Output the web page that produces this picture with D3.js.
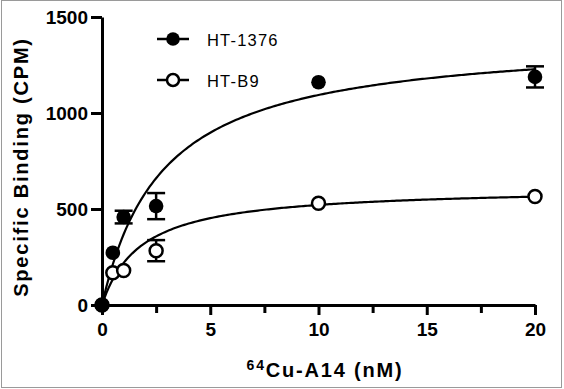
<!DOCTYPE html>
<html>
<head>
<meta charset="utf-8">
<script src="https://cdn.jsdelivr.net/npm/d3@7"></script>
<style>
  body { margin: 0; background: #fff; }
  svg { display: block; font-family: "Liberation Sans", Arial, Helvetica, sans-serif; }
  .axis-title { font-size: 20px; font-weight: bold; letter-spacing: 1.8px; fill: #000; }
  .legend-text { font-size: 16.5px; letter-spacing: 1.2px; fill: #000; }
</style>
</head>
<body>
<div id="chart"></div>
<script>
// concentrations (nM)
var concHT1376 = [0, 0.5, 1, 2.5, 10, 20];
var bindHT1376 = [0, 272, 458, 515, 1160, 1188];
var errHT1376  = [0, 0, 33, 68, 0, 55];

var concHTB9 = [0, 0.5, 1, 2.5, 10, 20];
var bindHTB9 = [0, 168, 180, 283, 530, 565];
var errHTB9  = [0, 0, 0, 55, 0, 0];

// one-site binding fit: Bmax, Kd
var fitHT1376 = [1400, 2.8];
var fitHTB9 = [615, 1.8];

var seriesNames = ["HT-1376", "HT-B9"];
var xTicks = [0, 5, 10, 15, 20];
var xMinorTicks = [2.5, 7.5, 12.5, 17.5];
var yTicks = [0, 500, 1000, 1500];

var width = 564, height = 389;

var svg = d3.select("#chart").append("svg")
    .attr("width", width)
    .attr("height", height);

// frame
svg.append("rect")
    .attr("x", 1.5).attr("y", 0.5)
    .attr("width", 560).attr("height", 387)
    .attr("fill", "none")
    .attr("stroke", "#9a9a9a")
    .attr("stroke-width", 1);

var x = d3.scaleLinear().domain([0, 20]).range([102, 535]);
var y = d3.scaleLinear().domain([0, 1500]).range([305, 17]);

function styleAxis(g) {
    g.attr("font-size", 19).attr("font-family", null).attr("font-weight", "bold");
    g.select(".domain").attr("stroke", "#000").attr("stroke-width", 3);
    g.selectAll(".tick line").attr("stroke", "#000").attr("stroke-width", 3);
    g.selectAll(".tick text").attr("fill", "#000");
}

// x axis
var xAxis = svg.append("g")
    .attr("transform", "translate(0," + y(0) + ")")
    .call(d3.axisBottom(x).tickValues(xTicks).tickFormat(d3.format("d"))
        .tickSize(10).tickSizeOuter(0).tickPadding(8));
styleAxis(xAxis);

var xMinor = svg.append("g")
    .attr("transform", "translate(0," + y(0) + ")")
    .call(d3.axisBottom(x).tickValues(xMinorTicks).tickSize(8).tickFormat(""));
xMinor.select(".domain").remove();
xMinor.selectAll(".tick line").attr("stroke", "#000").attr("stroke-width", 3);

// y axis
var yAxis = svg.append("g")
    .attr("transform", "translate(" + x(0) + ",0)")
    .call(d3.axisLeft(y).tickValues(yTicks).tickFormat(d3.format("d"))
        .tickSize(11).tickSizeOuter(0).tickPadding(3));
styleAxis(yAxis);
yAxis.selectAll(".tick text").attr("dy", "0.36em");

// axis titles
var xTitle = svg.append("text")
    .attr("class", "axis-title")
    .attr("x", 325).attr("y", 377)
    .attr("text-anchor", "middle");
xTitle.append("tspan").attr("font-size", 14).attr("dy", -7).text("64");
xTitle.append("tspan").attr("dy", 7).text("Cu-A14 (nM)");

svg.append("text")
    .attr("class", "axis-title")
    .attr("transform", "translate(28,167) rotate(-90)")
    .attr("text-anchor", "middle")
    .text("Specific Binding (CPM)");

// fit curves
var curveX = d3.range(0, 20.001, 0.1);
var line = d3.line()
    .x(function(d) { return x(d[0]); })
    .y(function(d) { return y(d[1]); });

[fitHT1376, fitHTB9].forEach(function(p) {
    svg.append("path")
        .datum(curveX.map(function(c) { return [c, p[0] * c / (p[1] + c)]; }))
        .attr("d", line)
        .attr("fill", "none")
        .attr("stroke", "#000")
        .attr("stroke-width", 2.2);
});

// error bars + points
function drawSeries(conc, vals, errs, filled) {
    var g = svg.append("g");
    conc.forEach(function(c, i) {
        if (errs[i] > 0) {
            var cx = x(c), y1 = y(vals[i] + errs[i]), y2 = y(vals[i] - errs[i]);
            g.append("line").attr("x1", cx).attr("x2", cx).attr("y1", y1).attr("y2", y2)
                .attr("stroke", "#000").attr("stroke-width", 2.5);
            [y1, y2].forEach(function(yy) {
                g.append("line").attr("x1", cx - 9).attr("x2", cx + 9).attr("y1", yy).attr("y2", yy)
                    .attr("stroke", "#000").attr("stroke-width", 2.5);
            });
        }
    });
    g.selectAll("circle")
        .data(conc)
        .enter().append("circle")
        .attr("cx", function(d) { return x(d); })
        .attr("cy", function(d, i) { return y(vals[i]); })
        .attr("r", filled ? 7.3 : 6.5)
        .attr("fill", filled ? "#000" : "#fff")
        .attr("stroke", "#000")
        .attr("stroke-width", filled ? 0 : 2.5);
}
drawSeries(concHTB9, bindHTB9, errHTB9, false);
drawSeries(concHT1376, bindHT1376, errHT1376, true);

// legend
var legend = svg.append("g");
seriesNames.forEach(function(name, i) {
    var ly = 39 + i * 41;
    legend.append("line").attr("x1", 157).attr("x2", 189).attr("y1", ly).attr("y2", ly)
        .attr("stroke", "#000").attr("stroke-width", 2.5);
    legend.append("circle").attr("cx", 173).attr("cy", ly)
        .attr("r", i === 0 ? 6.8 : 6)
        .attr("fill", i === 0 ? "#000" : "#fff")
        .attr("stroke", "#000").attr("stroke-width", i === 0 ? 0 : 2.5);
    legend.append("text").attr("class", "legend-text")
        .attr("x", 207).attr("y", ly + 6.5)
        .text(name);
});
</script>
</body>
</html>
